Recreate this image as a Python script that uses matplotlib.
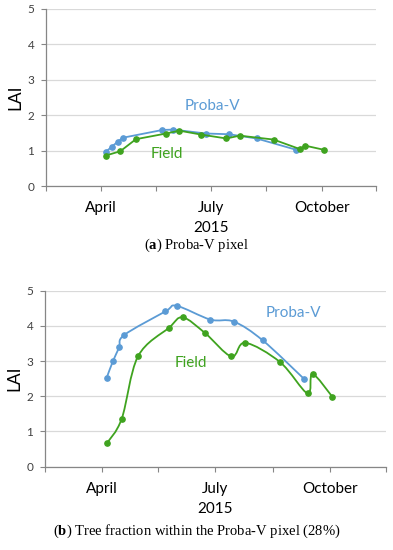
import numpy as np
import pandas as pd
import matplotlib
matplotlib.use("Agg")
import matplotlib.pyplot as plt
from matplotlib.path import Path
from matplotlib.patches import PathPatch

# ---------------------------------------------------
# Datos (fechas 2015 y LAI)
# ---------------------------------------------------
probav_dates = ["2015-04-05", "2015-04-10", "2015-04-15", "2015-04-19", "2015-05-22",
                "2015-05-31", "2015-06-27", "2015-07-16", "2015-08-08", "2015-09-10"]
field_dates = ["2015-04-05", "2015-04-17", "2015-04-30", "2015-05-25", "2015-06-05",
               "2015-06-23", "2015-07-14", "2015-07-25", "2015-08-22", "2015-09-13",
               "2015-09-17", "2015-10-03"]

pixel_probav = [0.97, 1.12, 1.26, 1.37, 1.59, 1.60, 1.49, 1.47, 1.35, 1.03]
pixel_field = [0.87, 0.99, 1.33, 1.49, 1.57, 1.46, 1.35, 1.43, 1.32, 1.05, 1.15, 1.03]

tree_probav = [2.53, 3.00, 3.39, 3.74, 4.41, 4.57, 4.18, 4.12, 3.59, 2.50]
tree_field = [0.66, 1.36, 3.13, 3.95, 4.24, 3.79, 3.13, 3.52, 2.97, 2.08, 2.63, 1.98]

month_labels = ["April", "July", "October"]
month_dates = ["2015-04-01", "2015-07-01", "2015-10-01"]

BLUE = "#5B9BD5"
GREEN = "#3FA31F"
GRID = "#D9D9D9"
AXC = "#868686"
SANS = "Lato"
SERIF = "Liberation Serif"

plt.rcParams["mathtext.fontset"] = "custom"
plt.rcParams["mathtext.rm"] = SERIF
plt.rcParams["mathtext.bf"] = SERIF + ":bold"

probav_doy = pd.to_datetime(probav_dates).dayofyear.values.astype(float)
field_doy = pd.to_datetime(field_dates).dayofyear.values.astype(float)
month_doy = pd.to_datetime(month_dates).dayofyear.values.astype(float)


def smooth_path(x, y):
    # curva Bezier tipo Excel (Catmull-Rom) a traves de los puntos
    pts = np.column_stack([x, y])
    verts = [pts[0]]
    codes = [Path.MOVETO]
    n = len(pts)
    for i in range(n - 1):
        p0 = pts[i - 1] if i > 0 else pts[i]
        p1 = pts[i]
        p2 = pts[i + 1]
        p3 = pts[i + 2] if i + 2 < n else pts[i + 1]
        c1 = p1 + (p2 - p0) / 6.0
        c2 = p2 - (p3 - p1) / 6.0
        verts += [c1, c2, p2]
        codes += [Path.CURVE4] * 3
    return Path(verts, codes)


def style_axes(ax):
    ax.set_ylim(0, 5)
    ax.set_xlim(45.5, 319)
    ax.set_yticks([0, 1, 2, 3, 4, 5])
    ax.set_xticks([45.5, 91, 136.5, 182, 228, 274, 319])
    ax.set_xticklabels([])
    ax.grid(axis="y", color=GRID, lw=0.9)
    ax.set_axisbelow(True)
    for s in ["top", "right"]:
        ax.spines[s].set_visible(False)
    for s in ["left", "bottom"]:
        ax.spines[s].set_color(AXC)
        ax.spines[s].set_linewidth(0.9)
    ax.tick_params(axis="y", length=3.5, width=0.8, color=AXC, labelsize=8.5,
                   labelcolor="#404040", pad=5)
    ax.tick_params(axis="x", length=3.5, width=0.8, color=AXC)
    for lab in ax.get_yticklabels():
        lab.set_family(SANS)
    ax.set_ylabel("LAI", family=SANS, fontsize=12.5, labelpad=3)
    for d, m in zip(month_doy, month_labels):
        ax.annotate(m, (d, 0), xycoords=("data", "axes fraction"),
                    xytext=(0, -22), textcoords="offset pixels",
                    ha="center", va="center", fontsize=11, family=SANS)
    ax.annotate("2015", (month_doy[1], 0), xycoords=("data", "axes fraction"),
                xytext=(0, -42), textcoords="offset pixels",
                ha="center", va="center", fontsize=11, family=SANS)


fig = plt.figure(figsize=(3.93, 5.5), dpi=100)

# ---------------------------------------------------
# (a) Pixel Proba-V
# ---------------------------------------------------
ax1 = fig.add_axes([0.117, 0.661, 0.840, 0.323])
style_axes(ax1)
ax1.plot(probav_doy, pixel_probav, color=BLUE, lw=1.3, marker="o", ms=3.8, zorder=3)
ax1.plot(field_doy, pixel_field, color=GREEN, lw=1.3, marker="o", ms=3.8, zorder=4)
ax1.text(183, 2.26, "Proba-V", color=BLUE, fontsize=11, family=SANS, ha="center", va="center")
ax1.text(146, 0.90, "Field", color=GREEN, fontsize=11, family=SANS, ha="center", va="center")

# ---------------------------------------------------
# (b) Fraccion de arboles
# ---------------------------------------------------
ax2 = fig.add_axes([0.1145, 0.1515, 0.868, 0.32])
style_axes(ax2)
for xs, ys, c, z in [(probav_doy, tree_probav, BLUE, 3), (field_doy, tree_field, GREEN, 4)]:
    ax2.add_patch(PathPatch(smooth_path(xs, ys), fill=False, ec=c, lw=1.3, zorder=z))
    ax2.plot(xs, ys, ls="none", color=c, marker="o", ms=3.8, zorder=z)
ax2.text(244.5, 4.36, "Proba-V", color=BLUE, fontsize=11, family=SANS, ha="center", va="center")
ax2.text(162.5, 2.95, "Field", color=GREEN, fontsize=11, family=SANS, ha="center", va="center")

# ---------------------------------------------------
# Leyendas de figura
# ---------------------------------------------------
fig.text(0.5, 1 - 245 / 550, r"($\mathbf{a}$) Proba-V pixel", ha="center", va="center",
         fontsize=10.5, family=SERIF)
fig.text(0.5, 1 - 531 / 550, r"($\mathbf{b}$) Tree fraction within the Proba-V pixel (28%)",
         ha="center", va="center", fontsize=10.5, family=SERIF)

fig.savefig("out.png", dpi=100)
